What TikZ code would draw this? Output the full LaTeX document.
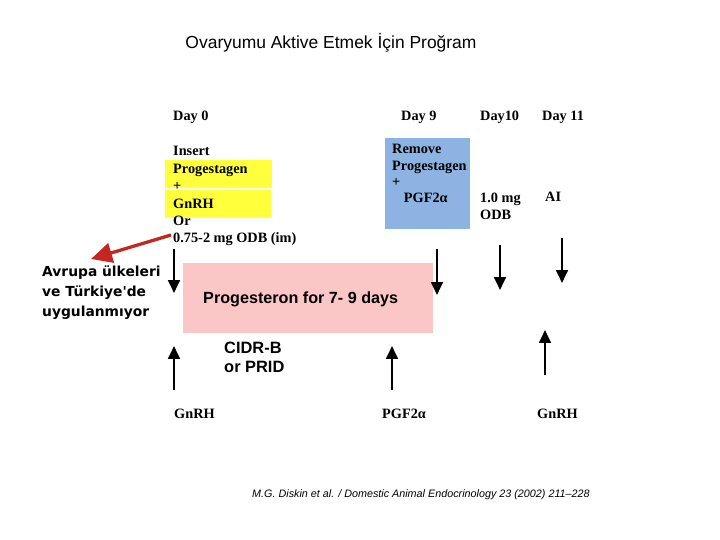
\documentclass[tikz,border=0pt]{standalone}
\usepackage{fontspec}
\setmainfont{Liberation Serif}
\setsansfont{Liberation Sans}
\newfontfamily\notefont[Ligatures=TeXOff]{DejaVu Sans}
\usetikzlibrary{arrows.meta,positioning}
\definecolor{ovYellow}{RGB}{255,255,60}
\definecolor{ovBlue}{RGB}{141,179,226}
\definecolor{ovPink}{RGB}{251,198,198}
\definecolor{ovRed}{RGB}{196,38,34}
\tikzset{
  ovTitle/.style={font=\sffamily\fontsize{14.9}{17}\selectfont},
  ovDay/.style={font=\fontsize{12.2}{14.9}\selectfont\bfseries, inner sep=0pt,
    anchor=base west, align=left},
  ovBlueTxt/.style={ovDay, font=\fontsize{12.2}{14}\selectfont\bfseries},
  ovBig/.style={font=\sffamily\fontsize{13.8}{17}\selectfont\bfseries, inner sep=0pt,
    anchor=base west, align=left},
  ovNote/.style={font=\notefont\fontsize{11.8}{17.4}\selectfont\bfseries, inner sep=0pt,
    anchor=base west, align=left},
  ovCite/.style={font=\sffamily\itshape\fontsize{9.2}{10}\selectfont, inner sep=0pt,
    anchor=base west},
  %% timeline arrows
  ovArr/.style={-{Triangle[width=10pt,length=11pt]}, line width=2pt},
  ovRedArr/.style={-{Triangle[width=17pt,length=18pt]}, line width=2.8pt, ovRed},
}
\begin{document}
\begin{tikzpicture}[x=0.03cm, y=-0.03cm]
\useasboundingbox (0,0) rectangle (720,540);

\node[ovTitle] (title) at (331,43) {Ovaryumu Aktive Etmek İçin Proğram};

%% coloured backgrounds
\fill[ovYellow] (165,160) rectangle (272,188);
\fill[ovYellow] (165,190) rectangle (271,218);
\fill[ovBlue]   (385,138) rectangle (470,229);
\fill[ovPink]   (183,263) rectangle (433,333);

%% day labels
\node[ovDay] (day0)  at (173,121) {Day 0};
\node[ovDay] (day9)  at (401,121) {Day 9};
\node[ovDay] (day10) at (480,121) {Day10};
\node[ovDay] (day11) at (542,121) {Day 11};

%% multi-line texts sit on their last baseline
\node[ovDay] (ins) at (173,243)
  {Insert\\Progestagen\\+\\GnRH\\Or\\0.75-2 mg ODB (im)};
\node[ovBlueTxt] (rem) at (392,203)
  {Remove\\Progestagen\\+\\\hspace{10pt}PGF2α};
\node[ovDay] (odb) at (480,220) {1.0 mg\\ODB};
\node[ovDay] (ai)  at (545,202) {AI};

\node[ovBig] (prog) at (203,304) {Progesteron for 7- 9 days};
\node[ovBig, font=\sffamily\fontsize{14}{17}\selectfont\bfseries] (cidr) at (224,373)
  {CIDR-B\\or PRID};

\node[ovDay] (gn1) at (174,418) {GnRH};
\node[ovDay] (pgf) at (382,418) {PGF2α};
\node[ovDay] (gn2) at (537,418) {GnRH};

\node[ovNote] (note) at (42,317) {Avrupa ülkeleri\\ve Türkiye'de\\uygulanmıyor};

\node[ovCite] (cite) at (252,497)
  {M.G. Diskin et al. / Domestic Animal Endocrinology 23 (2002) 211--228};

%% arrows
\foreach \n/\x/\ya/\yb in {dA/174/249/293, dB/437/249/295, dC/500/245/290,
    dD/562/238/283, uA/174/390/346, uB/392/390/346, uC/545/375/330}{
  \coordinate (\n s) at (\x,\ya);
  \coordinate (\n e) at (\x,\yb);
  \draw[ovArr] (\n s) -- (\n e);
}

\coordinate (redS) at (171,235);
\coordinate (redE) at (91,259);
\draw[ovRedArr] (redS) -- (redE);

\end{tikzpicture}
\end{document}
